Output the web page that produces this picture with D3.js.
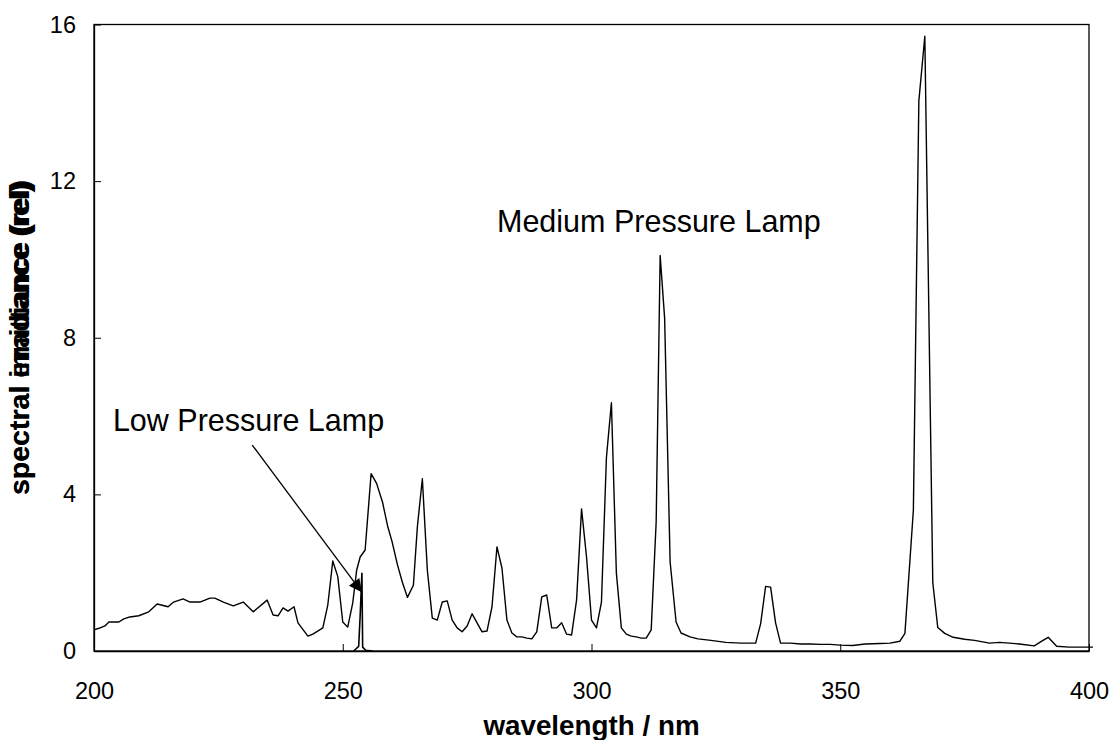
<!DOCTYPE html>
<html>
<head>
<meta charset="utf-8">
<script src="https://cdn.jsdelivr.net/npm/d3@7"></script>
<style>
    body { margin: 0; background: #fff; }
    #chart { width: 1112px; height: 740px; }
    text { font-family: 'Liberation Sans', Arial, sans-serif; fill: #000; }
</style>
</head>
<body>
<div id="chart"></div>
<script>
//Datos - lámpara de media presión
const mediaLongitud = [200, 201, 202.2, 203, 205, 206, 207.2, 209, 211, 212.7, 214.9, 216, 217.9, 219.3, 221.3, 223.3, 224.3, 226, 228, 230,
    232, 234.8, 236, 237, 238, 239, 240.2, 241, 243, 244, 246, 247, 248, 249, 250, 251, 252, 252.8, 253.5, 254.5,
    255.7, 256.8, 258, 259, 259.9, 261, 262, 263, 264.2, 265, 266, 267, 268, 269, 270, 271, 272, 273, 274, 275,
    276, 277, 278, 279, 280, 281, 282, 283, 284, 285, 286, 287, 288, 289, 290, 291, 292, 293, 294, 295,
    296, 297, 298, 299, 300, 301, 302, 303, 304, 305, 306, 307, 308, 309, 310, 311, 312, 313, 313.8, 314.7,
    315.8, 317, 318, 319.8, 321.4, 324, 327, 330, 333, 334, 335, 336, 337, 338, 340, 342, 344, 346, 348, 350,
    352.5, 355, 358, 360, 362, 363, 364.7, 365.8, 367, 368.6, 369.6, 371, 372.7, 375, 377, 380, 382, 384, 386, 389,
    390.5, 391.8, 393.5, 396, 400.8];
const mediaValor = [0.54, 0.58, 0.64, 0.74, 0.74, 0.82, 0.87, 0.9, 1.0, 1.2, 1.13, 1.25, 1.33, 1.25, 1.25, 1.35, 1.35, 1.25, 1.15, 1.25,
    1.0, 1.3, 0.92, 0.9, 1.1, 1.02, 1.13, 0.72, 0.38, 0.43, 0.59, 1.18, 2.3, 1.9, 0.74, 0.61, 1.22, 2.07, 2.4, 2.58,
    4.53, 4.28, 3.8, 3.2, 2.8, 2.2, 1.75, 1.37, 1.68, 3.17, 4.4, 2.07, 0.84, 0.79, 1.25, 1.28, 0.79, 0.59, 0.49, 0.64,
    0.95, 0.72, 0.49, 0.51, 1.13, 2.66, 2.12, 0.79, 0.46, 0.36, 0.36, 0.33, 0.31, 0.49, 1.38, 1.43, 0.59, 0.59, 0.72, 0.43,
    0.41, 1.3, 3.63, 2.4, 0.79, 0.59, 1.25, 4.94, 6.34, 1.99, 0.59, 0.43, 0.38, 0.36, 0.33, 0.33, 0.54, 3.3, 10.1, 8.5,
    2.28, 0.74, 0.46, 0.36, 0.31, 0.27, 0.22, 0.2, 0.2, 0.7, 1.65, 1.63, 0.72, 0.2, 0.2, 0.18, 0.18, 0.17, 0.17, 0.15,
    0.14, 0.18, 0.19, 0.2, 0.25, 0.45, 3.6, 14.05, 15.7, 1.75, 0.6, 0.45, 0.35, 0.3, 0.27, 0.2, 0.22, 0.2, 0.18, 0.13,
    0.25, 0.35, 0.12, 0.1, 0.1];

//Datos - lámpara de baja presión
const bajaLongitud = [252.2, 253.2, 253.5, 253.85, 254.0, 254.6, 256];
const bajaValor = [0, 0.12, 0.9, 2.0, 0.1, 0.02, 0];

//Ejes
const ticksX = [200, 250, 300, 350, 400];
const ticksY = [0, 4, 8, 12, 16];
const tituloX = 'wavelength / nm';
const titulosY = ['spectral irradiance (rel)', 'spectral emittance (rel)'];
const etiquetas = ['Low Pressure Lamp', 'Medium Pressure Lamp'];

let media = mediaLongitud.map(function(d, i) { return {x: d, y: mediaValor[i]}; });
let baja = bajaLongitud.map(function(d, i) { return {x: d, y: bajaValor[i]}; });

let margin = {top: 24.5, right: 23, bottom: 89, left: 94},
    width = 1112 - margin.left - margin.right,
    height = 740 - margin.top - margin.bottom;

let svg = d3.select('#chart')
    .append('svg')
        .attr('width', width + margin.left + margin.right)
        .attr('height', height + margin.top + margin.bottom)
    .append('g')
        .attr('transform', 'translate(' + margin.left + ',' + margin.top + ')');

let x = d3.scaleLinear()
    .domain([200, 400])
    .range([0, width]);

let y = d3.scaleLinear()
    .domain([0, 16])
    .range([height, 0]);

//Marco del gráfico
svg.append('rect')
    .attr('x', 0)
    .attr('y', 0)
    .attr('width', width)
    .attr('height', height)
    .attr('fill', 'none')
    .attr('stroke', '#000')
    .attr('stroke-width', 1.3);

let xAxis = function(g) {
    g.call(d3.axisBottom(x).tickValues(ticksX).tickSizeInner(-7).tickSizeOuter(0).tickPadding(31));
    g.call(function(g) { g.select('.domain').attr('stroke-width', 1.3); });
    g.call(function(g) { g.selectAll('.tick text').attr('font-size', 23.5).attr('font-family', null); });
}

svg.append('g')
    .attr('transform', 'translate(0,' + height + ')')
    .call(xAxis);

let yAxis = function(g) {
    g.call(d3.axisLeft(y).tickValues(ticksY).tickSizeInner(-7).tickSizeOuter(0).tickPadding(18));
    g.call(function(g) { g.select('.domain').attr('stroke-width', 1.3); });
    g.call(function(g) { g.selectAll('.tick text').attr('font-size', 23.5).attr('font-family', null); });
}

svg.append('g')
    .call(yAxis);

//Líneas
let linea = d3.line()
    .x(function(d) { return x(d.x); })
    .y(function(d) { return y(d.y); });

svg.append('path')
    .datum(media)
    .attr('fill', 'none')
    .attr('stroke', '#000')
    .attr('stroke-width', 1.4)
    .attr('stroke-linejoin', 'round')
    .attr('d', linea);

svg.append('path')
    .datum(baja)
    .attr('fill', 'none')
    .attr('stroke', '#000')
    .attr('stroke-width', 1.6)
    .attr('d', linea);

//Anotaciones
svg.append('defs')
    .append('marker')
        .attr('id', 'flecha')
        .attr('viewBox', '0 0 10 10')
        .attr('refX', 10)
        .attr('refY', 5)
        .attr('markerWidth', 17)
        .attr('markerHeight', 13)
        .attr('markerUnits', 'userSpaceOnUse')
        .attr('orient', 'auto')
    .append('path')
        .attr('d', 'M0,0L10,5L0,10Z')
        .attr('fill', '#000');

svg.append('line')
    .attr('x1', x(231.8))
    .attr('y1', y(5.26))
    .attr('x2', x(253.85))
    .attr('y2', y(1.5))
    .attr('stroke', '#000')
    .attr('stroke-width', 1.3)
    .attr('marker-end', 'url(#flecha)');

svg.append('text')
    .attr('x', x(203.8))
    .attr('y', y(5.62))
    .attr('font-size', 30.5)
    .text(etiquetas[0]);

svg.append('text')
    .attr('x', x(281))
    .attr('y', y(10.7))
    .attr('font-size', 30.5)
    .text(etiquetas[1]);

//Títulos de ejes
svg.append('text')
    .attr('x', width / 2)
    .attr('y', height + 84)
    .attr('text-anchor', 'middle')
    .attr('font-size', 27.8)
    .attr('font-weight', 'bold')
    .text(tituloX);

svg.selectAll('.titulo-y')
    .data(titulosY)
    .enter()
    .append('text')
    .attr('class', 'titulo-y')
    .attr('transform', 'translate(' + (29 - margin.left) + ',' + (495 - margin.top) + ') rotate(-90)')
    .attr('text-anchor', 'start')
    .attr('font-size', 28.5)
    .attr('font-weight', 'bold')
    .text(function(d) { return d; });
</script>
</body>
</html>
